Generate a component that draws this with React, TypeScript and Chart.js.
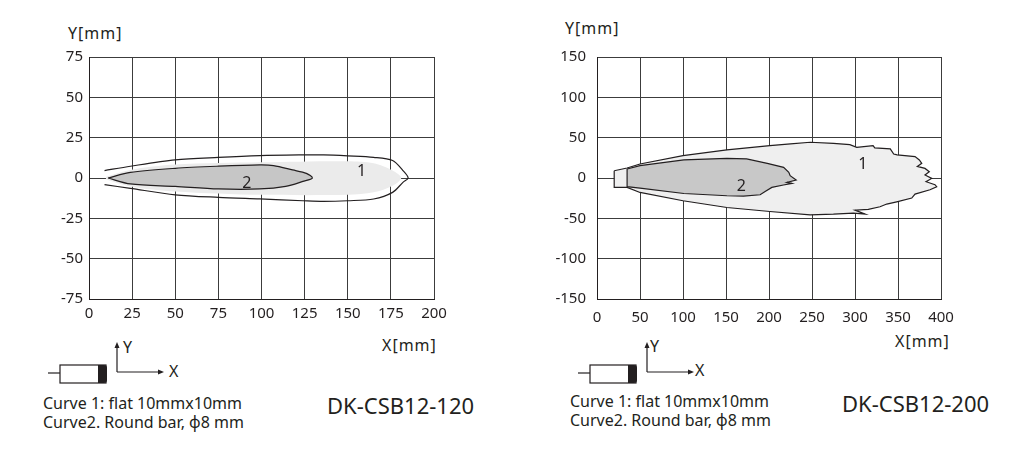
import React, { useEffect, useRef } from "react";
import { Chart, registerables } from "chart.js";

Chart.register(...registerables);

const INK = "#231f20";
const FONT = "'Noto Sans', sans-serif";

// ---- DK-CSB12-120 (left) ----
const xTicks120 = [0, 25, 50, 75, 100, 125, 150, 175, 200];
const yTicks120 = [-75, -50, -25, 0, 25, 50, 75];

// curve 1 outline, open at the sensor side
const curve1X120 = [9, 24, 50, 75, 99, 124, 136, 150, 165, 176, 182, 185, 182, 176, 165, 150, 136, 124, 99, 75, 50, 24, 9];
const curve1Y120 = [4.6, 7.3, 11.2, 12.8, 13.9, 14.3, 14.3, 13.7, 12.8, 10.8, 4.6, 0, -2.7, -8.9, -13, -14.1, -14.5, -14.1, -13, -12, -10.4, -6.4, -4.1];
// light grey body inside curve 1
const bandX120 = [10, 24, 50, 100, 150, 165, 176, 181, 176, 165, 150, 100, 50, 24, 10, 10];
const bandY120 = [0.8, 5, 8.3, 9.7, 10.4, 9.1, 4.6, 0, -4.8, -8.9, -10.4, -10.4, -8.3, -5.2, -0.8, 0.8];
// curve 2
const curve2X120 = [11, 24, 50, 75, 99, 107, 118, 126, 129.5, 124, 114, 99, 75, 50, 24, 11];
const curve2Y120 = [0, 3.5, 6, 7.3, 8.1, 7.7, 5, 2.9, 0, -2.1, -5.2, -6.8, -6.8, -5.2, -3.7, 0];

const markText120 = ["1", "2"];
const markX120 = [158, 91.5];
const markY120 = [4.2, -3.3];

// ---- DK-CSB12-200 (right) ----
const xTicks200 = [0, 50, 100, 150, 200, 250, 300, 350, 400];
const yTicks200 = [-150, -100, -50, 0, 50, 100, 150];

const curve1X200 = [
  20, 35, 50, 100, 151, 201, 225, 248, 275, 294, 302, 321, 323, 341, 345, 349,
  369.8, 374.8, 377.6, 372.5, 381.4, 386.4, 381.4, 389.2, 382.6, 393, 395, 387.2,
  369.8, 366, 348.5, 336.9, 329.1, 315.5, 300.1, 311.7, 298.1, 274.9, 247.8, 201,
  151, 100, 50, 35, 20, 20,
];
const curve1Y200 = [
  9, 12.4, 17.4, 27.7, 34.8, 40.2, 42.3, 44.3, 43, 41.4, 38, 40.2, 37.3, 36.1, 29.8, 28.6,
  26.5, 22.4, 18.2, 14.4, 11.9, 7.8, 3.7, -0.5, -4.6, -8.3, -10.8, -14.6,
  -19.9, -24.9, -29.5, -32.3, -35.7, -39, -39.8, -44.8, -43.5, -44.8, -45.6, -41.5,
  -36.6, -28.2, -17.9, -11.7, -11.7, 9,
];
const curve2X200 = [35, 50, 101, 151, 174, 198, 217, 223, 224.6, 231.6, 220.8, 226.6, 216.8, 203.3, 195.5, 189.7, 170.3, 151, 101, 50, 35, 35];
const curve2Y200 = [11.2, 15.3, 22.4, 24.4, 23.6, 18.2, 13.2, 7, 2.9, -2.5, -5.5, -6.7, -8.7, -11.7, -16.7, -20.8, -22.4, -22, -19.2, -12.5, -10.8, 11.2];

const markText200 = ["1", "2"];
const markX200 = [309, 167.7];
const markY200 = [17.4, -10.8];

const zip = (xs: number[], ys: number[]) => xs.map((x, i) => ({ x, y: ys[i] }));

const markLabels = {
  id: "markLabels",
  afterDatasetsDraw(chart: any, _args: any, opts: any) {
    const { ctx, scales } = chart;
    ctx.save();
    ctx.font = `16px ${FONT}`;
    ctx.fillStyle = INK;
    ctx.textAlign = "center";
    ctx.textBaseline = "middle";
    opts.text.forEach((t: string, i: number) => {
      ctx.fillText(t, scales.x.getPixelForValue(opts.xs[i]), scales.y.getPixelForValue(opts.ys[i]));
    });
    ctx.restore();
  },
};

interface ShapeChartProps {
  box: { left: number; top: number; width: number; height: number };
  datasets: any[];
  xTicks: number[];
  yTicks: number[];
  marks: { text: string[]; xs: number[]; ys: number[] };
  yAxisWidth: number;
  xAxisHeight: number;
  padTop: number;
  padRight: number;
  xPad: number;
  yPad: number;
}

const ShapeChart: React.FC<ShapeChartProps> = (p) => {
  const canvasRef = useRef<HTMLCanvasElement | null>(null);

  useEffect(() => {
    if (!canvasRef.current) return;
    const tickFont = { family: FONT, size: 15 };
    const chart = new Chart(canvasRef.current, {
      type: "scatter",
      data: { datasets: p.datasets },
      plugins: [markLabels],
      options: {
        animation: false,
        responsive: true,
        maintainAspectRatio: false,
        layout: { padding: { top: p.padTop, right: p.padRight, left: 0, bottom: 0 } },
        plugins: {
          legend: { display: false },
          tooltip: { enabled: false },
          markLabels: p.marks,
        } as any,
        scales: {
          x: {
            type: "linear",
            min: p.xTicks[0],
            max: p.xTicks[p.xTicks.length - 1],
            z: 1,
            afterBuildTicks: (s: any) => {
              s.ticks = p.xTicks.map((v) => ({ value: v }));
            },
            afterFit: (s: any) => {
              // fixed axis band, no extra room for overhanging labels
              s.height = p.xAxisHeight;
              s.paddingLeft = 0;
              s.paddingRight = 0;
            },
            grid: { color: "#3c3c3c", lineWidth: 1, drawTicks: false },
            border: { display: true, color: INK, width: 1 },
            ticks: { color: INK, font: tickFont, padding: p.xPad, maxRotation: 0, autoSkip: false },
          },
          y: {
            type: "linear",
            min: p.yTicks[0],
            max: p.yTicks[p.yTicks.length - 1],
            z: 1,
            afterBuildTicks: (s: any) => {
              s.ticks = p.yTicks.map((v) => ({ value: v }));
            },
            afterFit: (s: any) => {
              s.width = p.yAxisWidth;
              s.paddingTop = 0;
              s.paddingBottom = 0;
            },
            grid: { color: "#3c3c3c", lineWidth: 1, drawTicks: false },
            border: { display: true, color: INK, width: 1 },
            ticks: { color: INK, font: tickFont, padding: p.yPad, autoSkip: false },
          },
        },
      } as any,
    });
    return () => {
      chart.destroy();
    };
  }, []);

  return (
    <div style={{ position: "absolute", ...p.box }}>
      <canvas ref={canvasRef} />
    </div>
  );
};

const line = (xs: number[], ys: number[], extra: any) => ({
  data: zip(xs, ys),
  showLine: true,
  pointRadius: 0,
  pointHoverRadius: 0,
  ...extra,
});

const Text: React.FC<{ x: number; y: number; size: number; children: React.ReactNode; spacing?: number }> = ({
  x,
  y,
  size,
  children,
  spacing,
}) => (
  <div
    style={{
      position: "absolute",
      left: x,
      top: y - size * 0.7,
      fontSize: size,
      lineHeight: `${size * 1.4}px`,
      fontFamily: FONT,
      color: INK,
      whiteSpace: "nowrap",
      letterSpacing: spacing ?? 0,
    }}
  >
    {children}
  </div>
);

// sensor sketch with the X/Y directions
const SensorIcon: React.FC<{ x: number }> = ({ x }) => (
  <svg style={{ position: "absolute", left: x, top: 336, overflow: "visible" }} width={140} height={50}>
    <line x1={0} y1={37} x2={12} y2={37} stroke={INK} strokeWidth={1.2} />
    <rect x={12} y={29} width={46} height={18} fill="#fff" stroke={INK} strokeWidth={1.2} />
    <path d="M50 29 H56 Q59 29 59 32 V44 Q59 47 56 47 H50 Z" fill={INK} />
    <line x1={69} y1={36} x2={69} y2={10} stroke={INK} strokeWidth={1.2} />
    <path d="M69 6 L66.5 12 L71.5 12 Z" fill={INK} />
    <line x1={69} y1={36} x2={112} y2={36} stroke={INK} strokeWidth={1.2} />
    <path d="M116 36 L110 33.5 L110 38.5 Z" fill={INK} />
  </svg>
);

const App: React.FC = () => {
  const left = [
    line(bandX120, bandY120, { borderWidth: 0, borderColor: "rgba(0,0,0,0)", backgroundColor: "#ebebeb", fill: "shape", tension: 0.3, order: 3 }),
    line(curve1X120, curve1Y120, { borderWidth: 1.2, borderColor: INK, fill: false, tension: 0.3, order: 2 }),
    line(curve2X120, curve2Y120, { borderWidth: 1.2, borderColor: INK, backgroundColor: "#c6c6c6", fill: "shape", tension: 0.3, order: 1 }),
  ];
  const right = [
    line(curve1X200, curve1Y200, { borderWidth: 1.2, borderColor: INK, backgroundColor: "#efefef", fill: "shape", tension: 0, order: 2 }),
    line(curve2X200, curve2Y200, { borderWidth: 1.2, borderColor: INK, backgroundColor: "#c8c8c8", fill: "shape", tension: 0, order: 1 }),
  ];

  return (
    <div style={{ position: "fixed", left: 0, top: 0, width: 1021, height: 460, background: "#fff", overflow: "hidden" }}>
      <ShapeChart
        box={{ left: 30, top: 45, width: 420, height: 280 }}
        datasets={left}
        xTicks={xTicks120}
        yTicks={yTicks120}
        marks={{ text: markText120, xs: markX120, ys: markY120 }}
        yAxisWidth={59}
        xAxisHeight={26}
        padTop={12}
        padRight={16}
        xPad={6}
        yPad={6}
      />
      <ShapeChart
        box={{ left: 530, top: 44, width: 430, height: 283 }}
        datasets={right}
        xTicks={xTicks200}
        yTicks={yTicks200}
        marks={{ text: markText200, xs: markX200, ys: markY200 }}
        yAxisWidth={67}
        xAxisHeight={28}
        padTop={13}
        padRight={19}
        xPad={10}
        yPad={11}
      />

      <Text x={68} y={33} size={16} spacing={1}>Y[mm]</Text>
      <Text x={382} y={345} size={16} spacing={1}>X[mm]</Text>
      <Text x={565} y={28} size={16} spacing={1}>Y[mm]</Text>
      <Text x={895} y={341} size={16} spacing={1}>X[mm]</Text>

      <SensorIcon x={48} />
      <Text x={123} y={347} size={16}>Y</Text>
      <Text x={169} y={371} size={16}>X</Text>
      <Text x={43} y={403} size={16}>Curve 1: flat 10mmx10mm</Text>
      <Text x={43} y={422} size={16}>Curve2. Round bar, ϕ8 mm</Text>
      <Text x={327} y={405} size={22}>DK-CSB12-120</Text>

      <SensorIcon x={578} />
      <Text x={650} y={346} size={16}>Y</Text>
      <Text x={695} y={370} size={16}>X</Text>
      <Text x={570} y={401} size={16}>Curve 1: flat 10mmx10mm</Text>
      <Text x={570} y={420} size={16}>Curve2. Round bar, ϕ8 mm</Text>
      <Text x={842} y={403} size={22}>DK-CSB12-200</Text>
    </div>
  );
};

export default App;
